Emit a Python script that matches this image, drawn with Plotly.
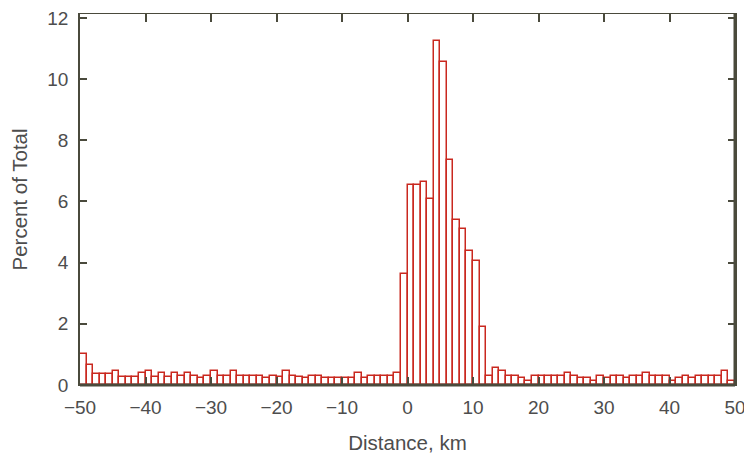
import plotly.graph_objects as go

# Histogram bins (left edge, km) and percent of total per 1-km bin
bin_left = list(range(-50, 50))
percent = [
    1.00, 0.67, 0.35, 0.35, 0.35, 0.45, 0.27, 0.27, 0.27, 0.38,   # -50..-41
    0.46, 0.27, 0.40, 0.27, 0.40, 0.30, 0.38, 0.29, 0.22, 0.29,   # -40..-31
    0.47, 0.29, 0.29, 0.46, 0.29, 0.29, 0.29, 0.29, 0.22, 0.29,   # -30..-21
    0.27, 0.45, 0.28, 0.25, 0.22, 0.29, 0.29, 0.22, 0.22, 0.22,   # -20..-11
    0.22, 0.22, 0.38, 0.22, 0.29, 0.29, 0.29, 0.29, 0.38, 3.62,   # -10..-1
    6.53, 6.53, 6.64, 6.09, 11.26, 10.55, 7.37, 5.41, 5.09, 4.38, # 0..9
    4.06, 1.91, 0.31, 0.56, 0.46, 0.30, 0.30, 0.22, 0.13, 0.30,   # 10..19
    0.30, 0.30, 0.30, 0.30, 0.38, 0.30, 0.22, 0.22, 0.13, 0.30,   # 20..29
    0.22, 0.30, 0.30, 0.22, 0.30, 0.30, 0.38, 0.30, 0.30, 0.30,   # 30..39
    0.13, 0.22, 0.30, 0.22, 0.30, 0.30, 0.30, 0.30, 0.46, 0.13,   # 40..49
]
x_ticks = [-50, -40, -30, -20, -10, 0, 10, 20, 30, 40, 50]
x_tick_text = ["\u221250", "\u221240", "\u221230", "\u221220", "\u221210", "0", "10", "20", "30", "40", "50"]
y_ticks = [0, 2, 4, 6, 8, 10, 12]

RED = "#c9281f"
AXIS = "#4a4a3c"
TEXT = "#4d4d4d"
FONT = "Liberation Sans, Arial, sans-serif"

centers = [b + 0.5 for b in bin_left]

fig = go.Figure()
fig.add_trace(go.Bar(
    x=centers, y=percent, width=1,
    marker=dict(color="rgba(255,255,255,0)", line=dict(color=RED, width=1.5)),
    showlegend=False, hoverinfo="x+y",
))

# page body adds an 8px offset, so the figure is 744x448
fig.update_layout(
    width=744, height=448,
    margin=dict(l=72, r=17, t=6, b=71),
    paper_bgcolor="white", plot_bgcolor="white",
    font=dict(family=FONT, size=19, color=TEXT),
    bargap=0,
    xaxis=dict(
        range=[-50, 50], tickmode="array", tickvals=x_ticks, ticktext=x_tick_text,
        ticks="inside", ticklen=8, tickwidth=1.5, tickcolor=AXIS,
        showline=True, linecolor=AXIS, linewidth=1, mirror="allticks",
        showgrid=False, zeroline=False, automargin=False,
        ticklabelstandoff=5, ticklabeloverflow="allow",
        title=dict(text="Distance, km", standoff=18, font=dict(size=20.5, color=TEXT)),
        tickfont=dict(size=19, color=TEXT),
    ),
    yaxis=dict(
        range=[0, 12.13], tickmode="array", tickvals=y_ticks,
        ticks="inside", ticklen=7, tickwidth=1.5, tickcolor=AXIS,
        showline=True, linecolor=AXIS, linewidth=1.5, mirror="allticks",
        showgrid=False, zeroline=False, automargin=False,
        ticklabelstandoff=6, ticklabeloverflow="allow",
        title=dict(text="Percent of Total", standoff=16, font=dict(size=20.5, color=TEXT)),
        tickfont=dict(size=19, color=TEXT),
    ),
    shapes=[
        dict(type="line", xref="paper", yref="paper", x0=0, x1=1, y0=0, y1=0,
             line=dict(color=AXIS, width=3)),
        dict(type="line", xref="paper", yref="paper", x0=1, x1=1, y0=0, y1=1,
             line=dict(color=AXIS, width=3)),
    ],
)

fig.write_html("out.html")
